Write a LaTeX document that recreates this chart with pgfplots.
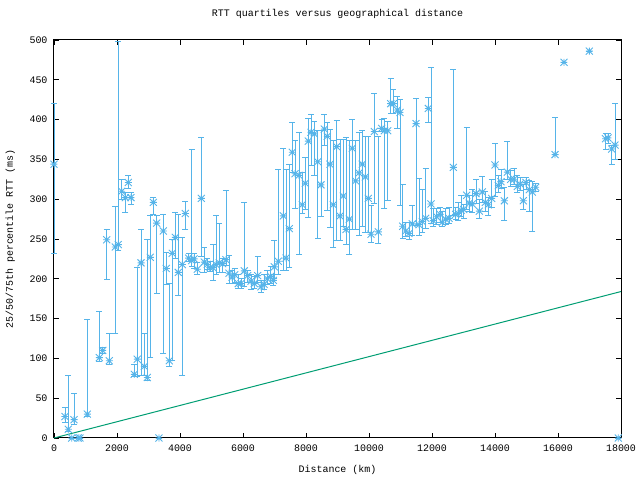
\documentclass[border=0pt]{standalone}
\usepackage{fontspec}
\setmainfont{Liberation Mono}
\usepackage{pgfplots}
\usepackage{pgfplotstable}
\pgfplotsset{compat=1.18}
\definecolor{gpblue}{HTML}{56B4E9}
\definecolor{gpgreen}{HTML}{009E73}
\pgfdeclareplotmark{gpstar}{%
  \pgfpathmoveto{\pgfqpoint{-\pgfplotmarksize}{0pt}}\pgfpathlineto{\pgfqpoint{\pgfplotmarksize}{0pt}}%
  \pgfpathmoveto{\pgfqpoint{0pt}{-\pgfplotmarksize}}\pgfpathlineto{\pgfqpoint{0pt}{\pgfplotmarksize}}%
  \pgfpathmoveto{\pgfqpoint{-\pgfplotmarksize}{-\pgfplotmarksize}}\pgfpathlineto{\pgfqpoint{\pgfplotmarksize}{\pgfplotmarksize}}%
  \pgfpathmoveto{\pgfqpoint{-\pgfplotmarksize}{\pgfplotmarksize}}\pgfpathlineto{\pgfqpoint{\pgfplotmarksize}{-\pgfplotmarksize}}%
  \pgfusepathqstroke}
\pgfplotstableread{
x y lo hi
0 344 232 420
349 27 19 38
454 11 8 79
562 0 0 0
635 23 17 56
771 0 0 0
825 0 0 0
1057 30 27 149
1438 101 96 159
1546 110 106 114
1673 249 199 262
1756 97 92 131
1946 240 131 291
2041 243 235 498
2149 310 300 325
2263 302 283 308
2359 321 314 330
2444 302 294 308
2549 80 77 93
2644 99 77 214
2762 220 79 262
2867 90 79 131
2962 76 72 250
3057 227 101 280
3152 296 281 302
3260 270 182 280
3333 0 0 0
3470 260 106 281
3565 213 193 233
3660 97 90 194
3755 232 98 250
3851 252 226 283
3946 208 179 281
4073 218 78 252
4168 282 262 297
4276 226 222 232
4371 223 215 363
4445 225 213 232
4549 212 206 220
4676 301 228 377
4771 221 208 239
4867 218 212 225
4952 214 209 222
5048 214 198 243
5143 218 205 280
5248 220 208 270
5356 219 208 225
5460 224 217 311
5556 207 194 229
5651 202 194 210
5737 205 196 213
5851 194 188 205
5937 194 188 200
6041 210 190 296
6149 204 196 210
6254 197 187 205
6359 194 188 203
6467 204 196 228
6571 190 183 198
6667 193 186 205
6771 200 193 210
6879 203 194 215
6962 198 192 205
6994 215 201 248
7121 222 205 338
7280 279 210 364
7365 226 210 337
7470 263 214 344
7565 359 333 397
7651 332 289 374
7778 330 231 384
7883 293 282 334
7978 320 287 353
8073 373 277 402
8159 384 343 407
8264 382 330 398
8371 347 251 386
8476 318 278 386
8581 388 368 407
8676 379 286 397
8762 344 265 388
8867 293 240 374
8975 366 248 399
9079 279 248 375
9184 304 266 375
9270 262 243 377
9375 275 231 374
9470 364 262 400
9578 323 262 374
9683 333 254 384
9787 344 266 386
9883 328 258 379
9978 301 258 379
10064 256 246 292
10169 385 295 433
10296 259 245 379
10403 389 385 400
10486 386 289 402
10594 386 298 398
10689 420 408 452
10772 420 408 438
10899 412 389 429
10984 409 292 425
11070 266 251 319
11165 260 253 271
11270 257 249 271
11375 269 255 292
11492 395 267 427
11587 268 254 326
11692 272 258 312
11800 276 263 339
11883 414 397 428
11968 294 270 466
12041 273 266 288
12149 278 268 288
12254 281 271 290
12327 271 266 285
12435 275 268 288
12540 276 270 290
12676 340 280 463
12752 281 274 290
12835 282 273 296
12921 286 278 305
13006 287 276 294
13102 305 287 390
13184 295 284 305
13279 294 283 312
13397 307 295 325
13502 285 276 300
13597 309 296 329
13692 296 285 310
13788 293 279 302
13895 301 290 325
14000 343 304 370
14105 317 308 330
14190 322 313 337
14296 298 273 315
14391 334 325 372
14498 325 316 336
14603 325 319 339
14708 316 308 330
14794 319 311 327
14899 298 287 318
14984 321 312 327
15089 312 285 324
15184 309 260 322
15292 315 310 320
15905 356 356 403
16190 472 472 472
16994 486 486 486
17508 376 363 382
17587 377 370 382
17705 363 344 368
17810 368 350 420
17914 0 0 0
}\rtt
\begin{document}
\fontsize{10}{12}\selectfont
\begin{tikzpicture}
\path[use as bounding box] (-54bp,-42bp) rectangle (586bp,438bp);
\begin{axis}[
  at={(0,0)}, anchor=south west,
  scale only axis, width=567bp, height=398bp,
  xmin=0, xmax=18000, ymin=0, ymax=500,
  xtick={0,2000,...,18000}, ytick={0,50,...,500},
  scaled x ticks=false, scaled y ticks=false,
  tick align=inside, major tick length=5bp,
  axis line style={line width=1bp, black},
  major tick style={line width=0.8bp, black},
  /pgf/number format/assume math mode=true,
  /pgf/number format/1000 sep={},
  tick label style={font=\fontsize{10}{12}\selectfont},
  xticklabel style={anchor=north, yshift=-3bp},
  yticklabel style={anchor=east, xshift=-3bp},
  title={RTT quartiles versus geographical distance},
  title style={at={(axis description cs:0.5,1)}, anchor=center, yshift=20bp, font=\fontsize{10}{12}\selectfont},
  xlabel={Distance (km)},
  xlabel style={at={(axis description cs:0.5,0)}, anchor=center, yshift=-32bp, font=\fontsize{10}{12}\selectfont},
  ylabel={25/50/75th percentile RTT (ms)},
  ylabel style={at={(axis description cs:-0.077,0.5)}, anchor=center, font=\fontsize{10}{12}\selectfont},
  clip=false,
]
\addplot[gpgreen, line width=1bp] coordinates {(0,0) (18000,184)};
\addplot[only marks, gpblue, mark=gpstar, mark size=3.5bp, mark options={line width=0.9bp},
  error bars/.cd, y dir=both, y explicit,
  error bar style={line width=0.9bp, gpblue},
  error mark=-,
  error mark options={rotate=90, line width=0.9bp, mark size=3bp, gpblue}]
  table[x=x, y=y, y error plus expr=\thisrow{hi}-\thisrow{y}, y error minus expr=\thisrow{y}-\thisrow{lo}] {\rtt};
\end{axis}
\end{tikzpicture}
\end{document}
